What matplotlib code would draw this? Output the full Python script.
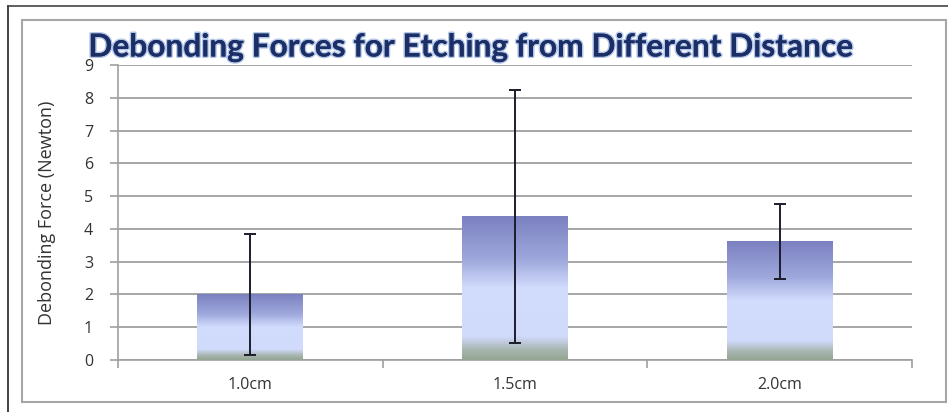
import numpy as np
import matplotlib
matplotlib.use("Agg")
import matplotlib.pyplot as plt
import matplotlib.patheffects as pe
from matplotlib.colors import LinearSegmentedColormap
from matplotlib.patches import Rectangle

# data
distances = ["1.0cm", "1.5cm", "2.0cm"]
force_mean = [2.0, 4.38, 3.62]
force_err = [1.85, 3.87, 1.15]
y_ticks = [0, 1, 2, 3, 4, 5, 6, 7, 8, 9]

plt.rcParams['font.family'] = ['Open Sans', 'DejaVu Sans']

fig = plt.figure(figsize=(9.48, 4.12), dpi=100)
fig.patch.set_facecolor("white")

# page border and chart frame
fig.add_artist(plt.Line2D([8 / 948, 8 / 948], [0, 1 - 6 / 412], color="#222222", lw=1.2))
fig.add_artist(plt.Line2D([8 / 948, 1], [1 - 6 / 412, 1 - 6 / 412], color="#444444", lw=1.2))
fig.add_artist(Rectangle((22 / 948, 1 - 402 / 412), (946 - 22) / 948, (402 - 20) / 412,
                         transform=fig.transFigure, fill=False, ec="#a6a6a6", lw=1.5))

ax = fig.add_axes([118 / 948, 1 - 360 / 412, (912 - 118) / 948, (360 - 65) / 412])

x = np.arange(len(distances))
bars = ax.bar(x, force_mean, width=0.4, color="none", zorder=3)

# gradient fill like the excel bar
cmap = LinearSegmentedColormap.from_list("excel", [
    (0.0, "#7b81c0"), (0.3, "#9ea8dc"), (0.5, "#d2dcfd"),
    (0.84, "#d0dafa"), (0.93, "#a8b6b0"), (1.0, "#94a592")])
grad = np.linspace(0, 1, 256).reshape(-1, 1)
for b in bars:
    x0, y0 = b.get_x(), b.get_y()
    w, h = b.get_width(), b.get_height()
    im = ax.imshow(grad, cmap=cmap, aspect="auto", extent=(x0, x0 + w, y0, y0 + h),
                   origin="upper", zorder=3)
    im.set_clip_path(b)

ax.errorbar(x, force_mean, yerr=force_err, fmt="none", ecolor="#1c1c2c",
            elinewidth=1.4, capsize=4, capthick=1.4, zorder=4)

ax.set_xlim(-0.5, 2.5)
ax.set_ylim(0, 9)
ax.set_yticks(y_ticks)
ax.set_xticks(x)
ax.set_xticklabels(distances)
ax.set_xticks([-0.5, 0.5, 1.5, 2.5], minor=True)
ax.tick_params(axis="x", which="major", length=0, pad=12, labelsize=11.5, labelcolor="#333333")
ax.tick_params(axis="x", which="minor", length=6, color="#a0a0a0", width=1.2)
ax.tick_params(axis="y", length=6, color="#a0a0a0", width=1.2, labelsize=11.5,
               labelcolor="#333333", pad=12)
ax.yaxis.grid(True, color="#a6a6a6", lw=1.4, zorder=0)
ax.set_axisbelow(True)
for s in ["top", "right"]:
    ax.spines[s].set_visible(False)
for s in ["left", "bottom"]:
    ax.spines[s].set_color("#a0a0a0")
    ax.spines[s].set_linewidth(1.2)

ax.set_ylabel("Debonding Force (Newton)", fontsize=13, color="#333333", labelpad=20)

t = fig.text(469 / 948, 1 - 47 / 412, "Debonding Forces for Etching from Different Distance",
             ha="center", va="center", fontsize=22.8, fontweight="bold", color="#1b2f66",
             family=["Lato", "DejaVu Sans"])
t.set_path_effects([pe.withStroke(linewidth=2.2, foreground="#b4c6e8"), pe.Normal()])

fig.savefig("out.png", dpi=100)
